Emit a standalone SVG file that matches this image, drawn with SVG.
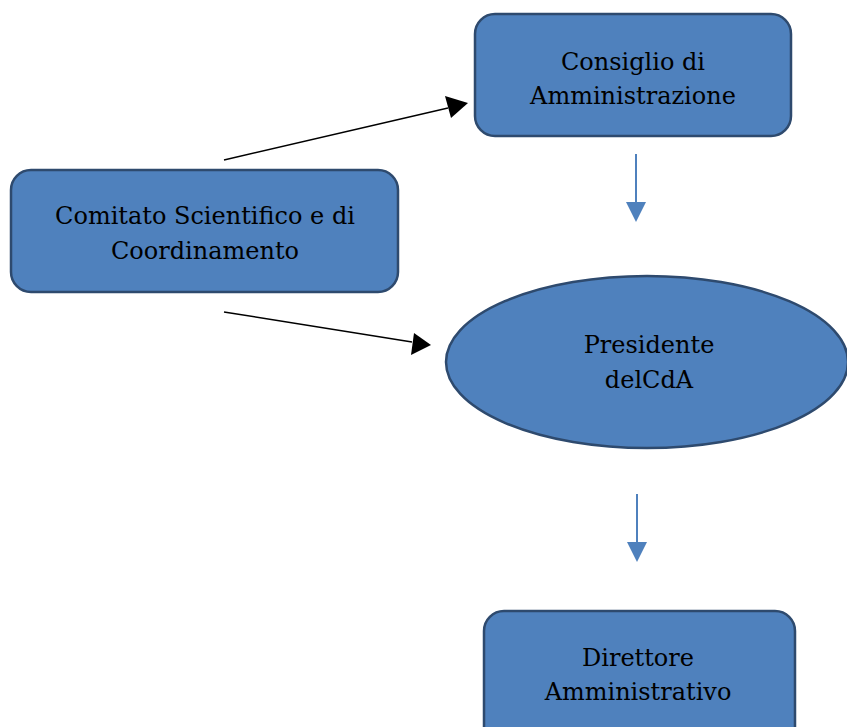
<svg xmlns="http://www.w3.org/2000/svg" width="847" height="727" viewBox="0 0 847 727">
<defs>
<style>
.node{fill:#4F81BD;stroke:#2E4A6E;stroke-width:2.5}
.lbl{font-family:"DejaVu Serif","Liberation Serif",serif;font-size:24px;fill:#000;text-anchor:middle}
.blk{stroke:#000;stroke-width:1.5;fill:none}
.blu{stroke:#4F81BD;stroke-width:2;fill:none}
</style>
</defs>
<rect width="847" height="727" fill="#fff"/>
<g id="consiglio">
<rect class="node" x="475" y="14" width="316" height="122" rx="20"/>
<text class="lbl" x="633" y="70">Consiglio di</text>
<text class="lbl" x="633" y="104">Amministrazione</text>
</g>
<g id="comitato">
<rect class="node" x="11" y="170" width="387" height="122" rx="20"/>
<text class="lbl" x="205" y="224">Comitato Scientifico e di</text>
<text class="lbl" x="205" y="259">Coordinamento</text>
</g>
<g id="presidente">
<ellipse class="node" cx="647" cy="362" rx="201" ry="86"/>
<text class="lbl" x="649" y="353">Presidente</text>
<text class="lbl" x="649" y="388">delCdA</text>
</g>
<g id="direttore">
<rect class="node" x="484" y="611" width="311" height="140" rx="20"/>
<text class="lbl" x="638" y="666">Direttore</text>
<text class="lbl" x="638" y="700">Amministrativo</text>
</g>
<g id="connectors">
<line class="blk" x1="224" y1="160" x2="448" y2="108"/>
<polygon points="468,103 445,96 451,118" fill="#000"/>
<line class="blk" x1="224" y1="312" x2="412" y2="342"/>
<polygon points="431,345 414,333 411,355" fill="#000"/>
<line class="blu" x1="636" y1="154" x2="636" y2="204"/>
<polygon points="626,202 646,202 636,222" fill="#4F81BD"/>
<line class="blu" x1="637" y1="494" x2="637" y2="544"/>
<polygon points="627,542 647,542 637,562" fill="#4F81BD"/>
</g>
</svg>
